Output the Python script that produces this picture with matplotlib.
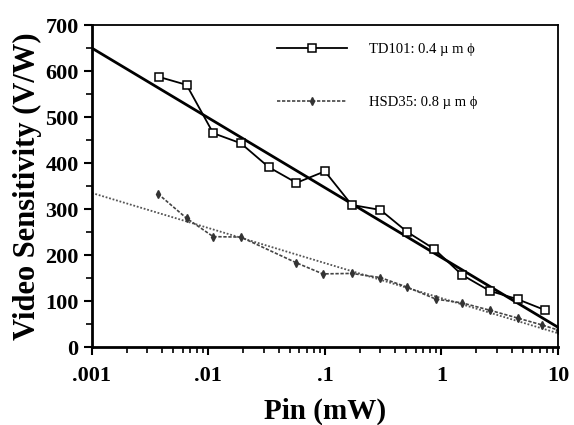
import numpy as np
import matplotlib
matplotlib.use("Agg")
import matplotlib.pyplot as plt
from matplotlib.ticker import MultipleLocator, LogLocator, NullFormatter

# TD101 measured points (Pin in mW, sensitivity in V/W)
td_pin = [0.0038, 0.0065, 0.011, 0.019, 0.033, 0.057, 0.10, 0.17, 0.30, 0.51, 0.87, 1.5, 2.6, 4.5, 7.8]
td_sens = [587, 570, 465, 443, 391, 357, 382, 309, 298, 250, 213, 157, 122, 104, 80]
# TD101 fitted line end points
td_fit_pin = [0.001, 10]
td_fit_sens = [650, 43]

# HSD35 measured points
hsd_pin = [0.0037, 0.0065, 0.011, 0.019, 0.057, 0.096, 0.17, 0.30, 0.51, 0.90, 1.5, 2.6, 4.5, 7.3, 10]
hsd_sens = [333, 280, 240, 239, 183, 159, 160, 151, 130, 104, 96, 80, 63, 48, 37]
# HSD35 fitted line end points
hsd_fit_pin = [0.001, 10]
hsd_fit_sens = [335, 30]

x_ticks = [0.001, 0.01, 0.1, 1, 10]
x_tick_labels = [".001", ".01", ".1", "1", "10"]

plt.rcParams['font.family'] = ['Liberation Serif', 'DejaVu Serif']
plt.rcParams['font.weight'] = 'bold'

fig = plt.figure(figsize=(5.74, 4.25), dpi=100)
ax = fig.add_axes([0.160, 0.1835, 0.812, 0.7575])

ax.plot(td_fit_pin, td_fit_sens, color='black', lw=2.0)
ax.plot(td_pin, td_sens, color='black', lw=1.3, marker='s', ms=5.5,
        mfc='white', mec='black', mew=1.1,
        label='TD101: 0.4 \u00b5 m \u03d5')

ax.plot(hsd_fit_pin, hsd_fit_sens, color='#555555', lw=1.3, ls=(0, (1, 1)))
ax.plot(hsd_pin, hsd_sens, color='#444444', lw=1.2, ls=(0, (2, 1)),
        marker='d', ms=4, mfc='#333333', mec='#333333',
        label='HSD35: 0.8 \u00b5 m \u03d5')

ax.set_xscale('log')
ax.set_xlim(0.001, 10)
ax.set_ylim(0, 700)

ax.set_xticks(x_ticks)
ax.set_xticklabels(x_tick_labels)
ax.xaxis.set_minor_locator(LogLocator(base=10, subs=np.arange(2, 10)))
ax.xaxis.set_minor_formatter(NullFormatter())
ax.yaxis.set_major_locator(MultipleLocator(100))
ax.yaxis.set_minor_locator(MultipleLocator(50))

ax.tick_params(which='major', direction='out', length=6, width=1.5, labelsize=16)
ax.tick_params(axis='x', which='major', pad=8)
ax.tick_params(which='minor', direction='out', length=4, width=1.2)
for lab in ax.get_xticklabels() + ax.get_yticklabels():
    lab.set_fontweight('bold')
for side in ['left', 'bottom']:
    ax.spines[side].set_linewidth(2.0)
for side in ['top', 'right']:
    ax.spines[side].set_linewidth(1.3)

ax.set_xlabel('Pin (mW)', fontsize=21, fontweight='bold', labelpad=8)
ax.set_ylabel('Video Sensitivity (V/W)', fontsize=22, fontweight='bold', labelpad=2)

leg = ax.legend(loc='upper left', bbox_to_anchor=(0.37, 0.985), frameon=False,
                fontsize=10.5, handlelength=4.8, labelspacing=2.7, handletextpad=1.5)
for t in leg.get_texts():
    t.set_fontweight('normal')

fig.savefig('out.png', dpi=100)
